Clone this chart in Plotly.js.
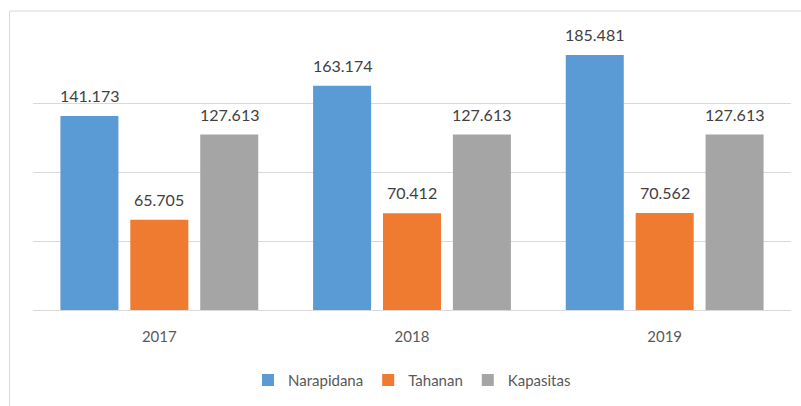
<!DOCTYPE html>
<html>
<head>
<meta charset="utf-8">
<script src="https://cdn.plot.ly/plotly-3.0.1.min.js"></script>
<style>
html,body{margin:0;padding:0;background:#fff;}
#chart{width:801px;height:406px;}
</style>
</head>
<body>
<div id="chart"></div>
<script>
const years = ['2017', '2018', '2019'];
const narapidana = [141173, 163174, 185481];
const tahanan = [65705, 70412, 70562];
const kapasitas = [127613, 127613, 127613];
const seriesNames = ['Narapidana', 'Tahanan', 'Kapasitas'];
const yTicks = [0, 50000, 100000, 150000, 200000];

const colors = ['#5B9BD5', '#EE7B30', '#A5A5A5'];
const allSeries = [narapidana, tahanan, kapasitas];

const bargap = 0.17;
const bargroupgap = 0.17;
const slot = (1 - bargap) / allSeries.length;

const traces = allSeries.map((vals, i) => ({
  type: 'bar',
  name: seriesNames[i],
  x: years,
  y: vals,
  marker: {color: colors[i], line: {width: 0}},
  hoverinfo: 'none'
}));

const fmt = v => String(v).replace(/\B(?=(\d{3})+(?!\d))/g, '.');
const annotations = [];
allSeries.forEach((vals, i) => {
  vals.forEach((v, j) => {
    annotations.push({
      x: j + (i - 1) * slot,
      y: v,
      xref: 'x', yref: 'y',
      text: fmt(v),
      showarrow: false,
      yanchor: 'bottom',
      yshift: 9,
      font: {family: 'Lato, "Open Sans", sans-serif', size: 16, color: '#404040'}
    });
  });
});

const layout = {
  width: 801,
  height: 406,
  margin: {l: 33, r: 10, t: 35, b: 96},
  paper_bgcolor: '#ffffff',
  plot_bgcolor: '#ffffff',
  barmode: 'group',
  bargap: bargap,
  bargroupgap: bargroupgap,
  font: {family: 'Lato, "Open Sans", sans-serif', color: '#595959'},
  xaxis: {
    type: 'category',
    showgrid: false,
    showline: false,
    zeroline: false,
    ticks: '',
    tickfont: {size: 15, color: '#595959'},
    ticklabelstandoff: 16
  },
  yaxis: {
    range: [0, 200000],
    tickvals: yTicks,
    showticklabels: false,
    showgrid: true,
    gridcolor: '#D9D9D9',
    gridwidth: 1,
    zeroline: true,
    zerolinecolor: '#D9D9D9',
    zerolinewidth: 1,
    showline: false,
    fixedrange: true
  },
  showlegend: true,
  legend: {
    orientation: 'h',
    x: 0.5,
    xanchor: 'center',
    y: -0.255,
    yanchor: 'middle',
    font: {size: 15, color: '#595959'},
    itemwidth: 30,
    traceorder: 'normal'
  },
  annotations: annotations,
  shapes: [{
    type: 'rect',
    xref: 'paper', yref: 'paper',
    x0: -0.031, x1: 1.02,
    y0: -0.5, y1: 1.087,
    line: {color: '#D9D9D9', width: 1},
    fillcolor: 'rgba(0,0,0,0)',
    layer: 'below'
  }]
};

Plotly.newPlot('chart', traces, layout, {staticPlot: true, displayModeBar: false});
</script>
</body>
</html>
